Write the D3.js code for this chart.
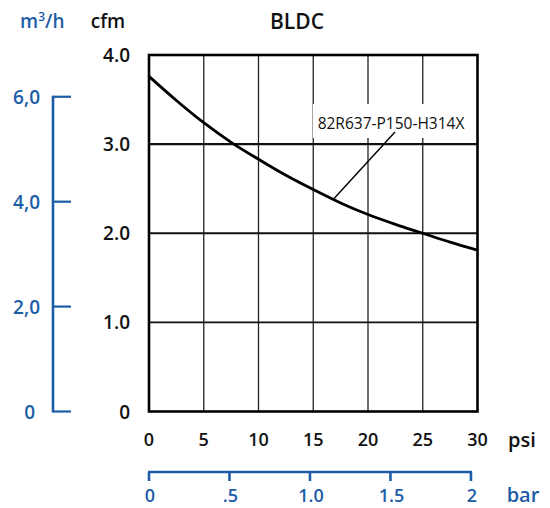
<!DOCTYPE html>
<html><head><meta charset="utf-8">
<script src="https://cdn.jsdelivr.net/npm/d3@7"></script>
<style>body{margin:0;background:#fff}svg{display:block}text{font-family:"Open Sans",sans-serif;font-weight:600}</style>
</head><body><svg id="c" width="550" height="508"></svg>
<script>
const title = "BLDC";
const modelLabel = "82R637-P150-H314X";
const psi = [0, 2.5, 5, 7.5, 10, 12.5, 15, 17.5, 20, 22.5, 25, 27.5, 30];
const cfm = [3.76, 3.49, 3.24, 3.02, 2.83, 2.65, 2.49, 2.34, 2.21, 2.10, 2.00, 1.90, 1.81];
const psiTicks = [0, 5, 10, 15, 20, 25, 30];
const cfmTicks = [0, 1, 2, 3, 4];
const cfmTickLabels = ["0", "1.0", "2.0", "3.0", "4.0"];
const m3hTicks = [0, 2, 4, 6];
const m3hTickLabels = ["0", "2,0", "4,0", "6,0"];
const barTicks = [0, 0.5, 1, 1.5, 2];
const barTickLabels = ["0", ".5", "1.0", "1.5", "2"];

const BLUE = "#1d5ca6";
const svg = d3.select("#c");
const L = 149, R = 477.5, T = 55, B = 411.5;
const x = d3.scaleLinear().domain([0, 30]).range([L, R]);
const y = d3.scaleLinear().domain([0, 4]).range([B, T]);
const CFM_PER_M3H = 1 / 1.699;
const ym = d3.scaleLinear().domain([0, 6]).range([B, y(6 * CFM_PER_M3H)]);
const PSI_PER_BAR = 14.7;
const xb = d3.scaleLinear().domain([0, 2]).range([L, x(2 * PSI_PER_BAR)]);

// grid
svg.append("g").selectAll("line").data(psiTicks.slice(1, -1)).join("line")
  .attr("x1", d => x(d)).attr("x2", d => x(d)).attr("y1", T).attr("y2", B)
  .attr("stroke", "#222").attr("stroke-width", 1.3);
svg.append("g").selectAll("line").data(cfmTicks.slice(1, -1)).join("line")
  .attr("x1", L).attr("x2", R).attr("y1", d => y(d)).attr("y2", d => y(d))
  .attr("stroke", "#111").attr("stroke-width", d => d === 1 ? 1.6 : 2.2);

// label box (white background)
svg.append("rect").attr("x", 313).attr("y", 104).attr("width", 158).attr("height", 34).attr("fill", "#fff");

// frame
svg.append("rect").attr("x", L).attr("y", T).attr("width", R - L).attr("height", B - T)
  .attr("fill", "none").attr("stroke", "#000").attr("stroke-width", 2.6);

// curve
const line = d3.line().x((d, i) => x(psi[i])).y(d => y(d)).curve(d3.curveMonotoneX);
svg.append("path").datum(cfm).attr("d", line).attr("fill", "none")
  .attr("stroke", "#000").attr("stroke-width", 2.8);

// label + leader
svg.append("text").attr("x", 391).attr("y", 129).attr("text-anchor", "middle")
  .attr("font-size", 15.5).style("font-weight", "400").attr("fill", "#111").text(modelLabel);
svg.append("line").attr("x1", x(16.9)).attr("y1", y(2.39)).attr("x2", 395).attr("y2", 132)
  .attr("stroke", "#000").attr("stroke-width", 1.4);

// title
svg.append("text").attr("x", 297).attr("y", 29).attr("text-anchor", "middle")
  .attr("font-size", 21).attr("fill", "#111").text(title);

// cfm axis labels
svg.append("g").selectAll("text").data(cfmTicks).join("text")
  .attr("x", 130).attr("y", d => y(d) + 7).attr("text-anchor", "end")
  .attr("font-size", 19).attr("fill", "#111").text((d, i) => cfmTickLabels[i]);
svg.append("text").attr("x", 108).attr("y", 28).attr("text-anchor", "middle")
  .attr("font-size", 19).attr("fill", "#111").text("cfm");

// psi axis labels
svg.append("g").selectAll("text").data(psiTicks).join("text")
  .attr("x", d => x(d)).attr("y", 446).attr("text-anchor", "middle")
  .attr("font-size", 18).attr("fill", "#111").text(d => d);
svg.append("text").attr("x", 522).attr("y", 447).attr("text-anchor", "middle")
  .attr("font-size", 20).attr("fill", "#111").text("psi");

// m3/h axis (blue)
const gm = svg.append("g");
gm.append("line").attr("x1", 53).attr("x2", 53).attr("y1", ym(6) - 1).attr("y2", ym(0) + 1)
  .attr("stroke", BLUE).attr("stroke-width", 2.6);
gm.selectAll("line.t").data(m3hTicks).join("line").attr("class", "t")
  .attr("x1", 53).attr("x2", 71).attr("y1", d => ym(d)).attr("y2", d => ym(d))
  .attr("stroke", BLUE).attr("stroke-width", 2.2);
gm.selectAll("text").data(m3hTicks).join("text")
  .attr("x", d => d === 0 ? 35 : 40).attr("y", d => ym(d) + 7).attr("text-anchor", "end")
  .attr("font-size", 19).attr("fill", BLUE).text((d, i) => m3hTickLabels[i]);
const mt = svg.append("text").attr("x", 20).attr("y", 28).attr("font-size", 19).attr("fill", BLUE);
mt.append("tspan").text("m");
mt.append("tspan").attr("dy", -7).attr("font-size", 12).text("3");
mt.append("tspan").attr("dy", 7).text("/h");

// bar axis (blue)
const gb = svg.append("g");
gb.append("line").attr("x1", xb(0) - 1).attr("x2", xb(2) + 1).attr("y1", 472).attr("y2", 472)
  .attr("stroke", BLUE).attr("stroke-width", 2.6);
gb.selectAll("line.t").data(barTicks).join("line").attr("class", "t")
  .attr("x1", d => xb(d)).attr("x2", d => xb(d)).attr("y1", 472).attr("y2", 481)
  .attr("stroke", BLUE).attr("stroke-width", 2.6);
gb.selectAll("text").data(barTicks).join("text")
  .attr("x", d => xb(d) + 1).attr("y", 502).attr("text-anchor", "middle")
  .attr("font-size", 18).attr("fill", BLUE).text((d, i) => barTickLabels[i]);
svg.append("text").attr("x", 523).attr("y", 502).attr("text-anchor", "middle")
  .attr("font-size", 20).attr("fill", BLUE).text("bar");
</script></body></html>
